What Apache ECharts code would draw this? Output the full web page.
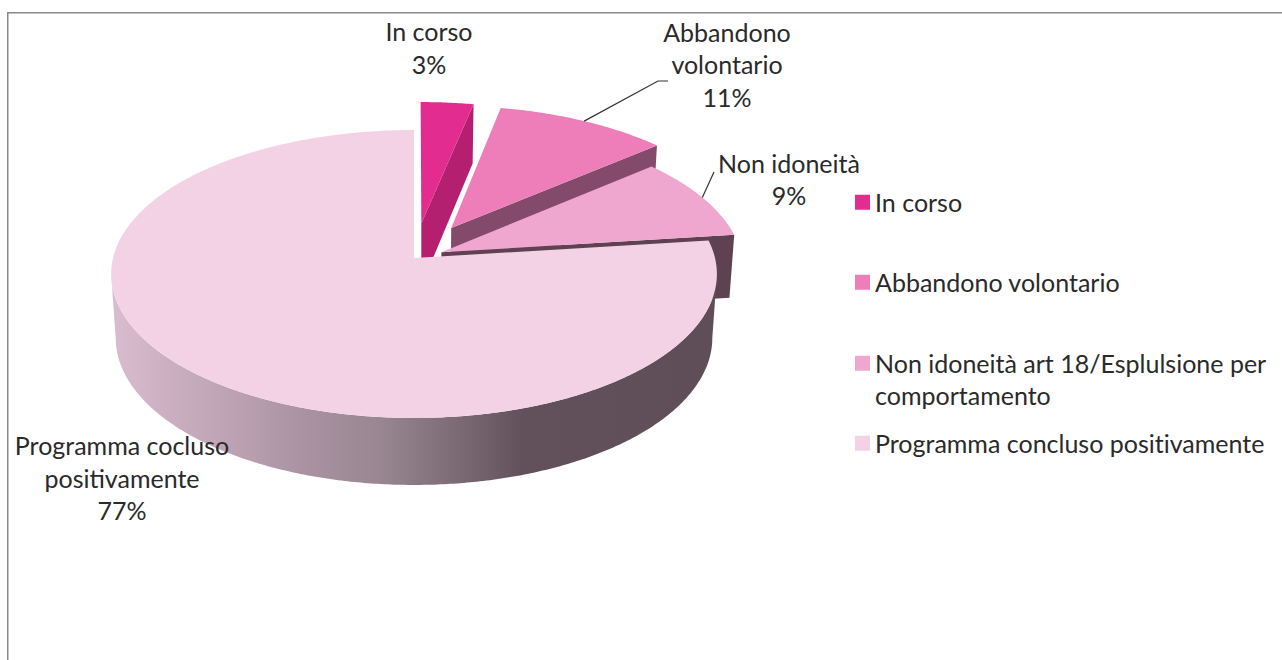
<!DOCTYPE html>
<html>
<head>
<meta charset="utf-8">
<style>html,body{margin:0;padding:0;background:#fff}#c{width:1282px;height:660px}#c text{font-variant-ligatures:none}</style>
<script src="https://cdn.jsdelivr.net/npm/echarts@6/dist/echarts.min.js"></script>
</head>
<body>
<div id="c"></div>
<script>
var categories = ['In corso', 'Abbandono volontario', 'Non idoneità art 18/Esplulsione per\ncomportamento', 'Programma concluso positivamente'];
var values = [3.2, 10.5, 9.3, 77];
var labelNames = ['In corso', 'Abbandono\nvolontario', 'Non idoneità', 'Programma cocluso\npositivamente'];
var topColors = ['#e22c8f', '#ee7eb9', '#efa6cf', '#f4d2e5'];
var cutColors = ['#b41f70', '#834a6b', '#5f4252', '#61505a'];
var explode = [0.25, 0.25, 0.1, 0];

// layout of the tilted pie
var CX = 414, CY = 258, FX = 301, FY = 142.2, K = 0.111, S = 0.985;
var FONT = 'Lato', FS = 25;
var total = values.reduce(function (a, b) { return a + b; }, 0);
var starts = values.map(function (v, i) {
  return values.slice(0, i).reduce(function (a, b) { return a + b; }, 0);
});

function project(X, Y, low) {
  var d = 1 - K * Y;
  var x = FX * X / d, y = CY + FY * Y / d;
  if (low) { x *= S; y += 63.5 + 3.5 * Y; }
  return [CX + x, y];
}
function rimPoint(ang, e, mid, r, low) {
  return project(e * Math.sin(mid) + r * Math.sin(ang), -e * Math.cos(mid) - r * Math.cos(ang), low);
}
function arc(a0, a1, e, mid, low) {
  var n = Math.max(2, Math.ceil((a1 - a0) / 0.01)), pts = [];
  for (var i = 0; i <= n; i++) pts.push(rimPoint(a0 + (a1 - a0) * i / n, e, mid, 1, low));
  return pts;
}
function poly(points, fill) {
  return { type: 'polygon', shape: { points: points }, style: { fill: fill, stroke: null } };
}
function text(str, x, y) {
  return { type: 'text', z2: 50, style: { text: str, x: x, y: y, align: 'center', verticalAlign: 'middle',
    font: FS + 'px ' + FONT, fill: '#2a2a2a', lineHeight: 32.5 } };
}
function leader(pts) {
  return { type: 'polyline', z2: 40, shape: { points: pts }, style: { stroke: '#333', lineWidth: 1.2, fill: null } };
}

function makeRender(i) {
  return function (params, api) {
    var v = api.value(0), s = api.value(1);
    var a0 = s / total * 2 * Math.PI, a1 = (s + v) / total * 2 * Math.PI, mid = (a0 + a1) / 2;
    var e = explode[i];
    var apexT = rimPoint(0, e, mid, 0, false), apexB = rimPoint(0, e, mid, 0, true);
    var topArc = arc(a0, a1, e, mid, false), lowArc = arc(a0, a1, e, mid, true);
    var kids = [];
    if (i === 3) {
      // only the part of the rim that faces the viewer, so the wall polygon does not fold over itself
      var f0 = Math.max(a0, Math.PI / 2 + Math.asin(K)), f1 = Math.min(a1, 3 * Math.PI / 2 - Math.asin(K));
      var wallFill = new echarts.graphic.LinearGradient(0, 0, 1, 0, [
        { offset: 0, color: '#dabccf' },
        { offset: 0.32, color: '#aa92a2' },
        { offset: 0.445, color: '#988691' },
        { offset: 0.6, color: '#75646e' },
        { offset: 0.68, color: '#62505b' },
        { offset: 1, color: '#5f4e58' }
      ]);
      kids.push(poly(arc(f0, f1, e, mid, false).concat(arc(f0, f1, e, mid, true).reverse()), wallFill));
    } else {
      var endT = topArc[topArc.length - 1], endB = lowArc[lowArc.length - 1];
      kids.push(poly([apexT, endT, endB, apexB], cutColors[i]));
    }
    kids.push(poly([apexT].concat(topArc), topColors[i]));

    var pct = Math.round(v / total * 100) + '%';
    var lab = labelNames[i] + '\n' + pct;
    var m = rimPoint(mid, e, mid, 1, false);
    if (i === 0) kids.push(text(lab, 429, 47.5));
    if (i === 1) {
      kids.push(leader([m, [658, 81], [668, 81]]));
      kids.push(text(lab, 727, 64));
    }
    if (i === 2) {
      kids.push(leader([m, [714, 172]]));
      kids.push(text(lab, 789, 179));
    }
    if (i === 3) kids.push(text(lab, 122, 477.5));
    return { type: 'group', children: kids };
  };
}

var series = categories.map(function (name, i) {
  return {
    type: 'custom', name: name, coordinateSystem: 'none', silent: true, animation: false, clip: false,
    itemStyle: { color: topColors[i] },
    data: [[values[i], starts[i]]],
    renderItem: makeRender(i)
  };
});

var legendTops = [186, 266, 347, 427];
var legends = categories.map(function (name, i) {
  return {
    show: true, left: 855, top: legendTops[i], orient: 'vertical', selectedMode: false,
    icon: 'rect', itemWidth: 15, itemHeight: 15, itemGap: 0, padding: 0,
    data: [{ name: name }],
    textStyle: { fontFamily: FONT, fontSize: FS, color: '#2a2a2a', lineHeight: 32.5 },
    formatter: function (n) { return n.split('\n')[0]; }
  };
});

var chart = echarts.init(document.getElementById('c'), null, { renderer: 'svg' });
chart.setOption({
  animation: false,
  backgroundColor: '#ffffff',
  legend: legends,
  graphic: [
    { type: 'polyline', silent: true, shape: { points: [[7.75, 660], [7.75, 12.75], [1282, 12.75]] },
      style: { stroke: '#8a8a8a', lineWidth: 1.5, fill: null } },
    { type: 'text', silent: true, style: { text: categories[2].split('\n')[1], x: 875, y: 395, verticalAlign: 'middle',
      font: FS + 'px ' + FONT, fill: '#2a2a2a' } }
  ],
  series: series
});
</script>
</body>
</html>
